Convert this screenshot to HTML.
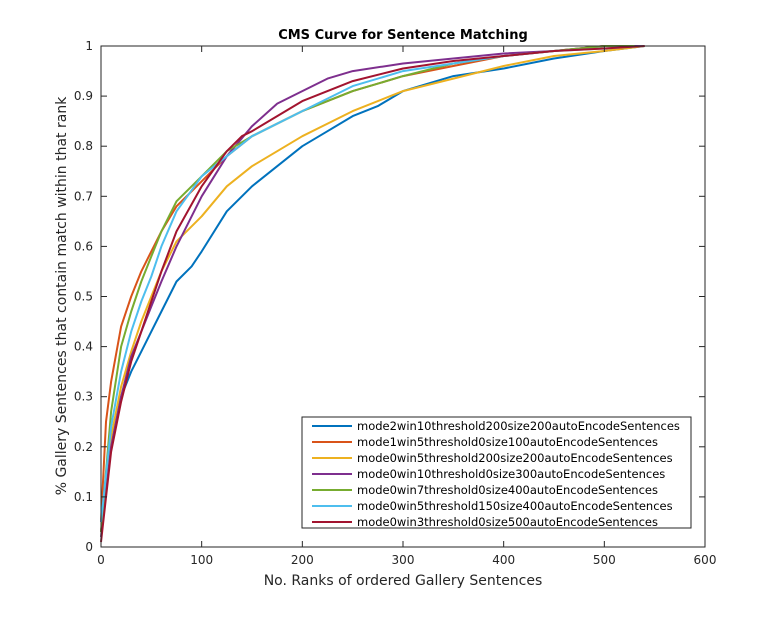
<!DOCTYPE html>
<html><head><meta charset="utf-8"><style>
body{margin:0;background:#fff;}
svg text{font-family:"DejaVu Sans","Liberation Sans",sans-serif;}
</style></head><body>
<svg id="chart" width="779" height="616" xmlns="http://www.w3.org/2000/svg">
<rect width="779" height="616" fill="#fff"/>
<g id="plot"></g>
</svg>
<script>
const xTicks=[0,100,200,300,400,500,600];
const yTicks=[0,0.1,0.2,0.3,0.4,0.5,0.6,0.7,0.8,0.9,1];
const yTickLabels=["0","0.1","0.2","0.3","0.4","0.5","0.6","0.7","0.8","0.9","1"];
const seriesNames=["mode2win10threshold200size200autoEncodeSentences","mode1win5threshold0size100autoEncodeSentences","mode0win5threshold200size200autoEncodeSentences","mode0win10threshold0size300autoEncodeSentences","mode0win7threshold0size400autoEncodeSentences","mode0win5threshold150size400autoEncodeSentences","mode0win3threshold0size500autoEncodeSentences"];
const colors=["#0072BD","#D95319","#EDB120","#7E2F8E","#77AC30","#4DBEEE","#A2142F"];
const xBlue=[0,10,20,30,40,50,60,75,90,100,125,150,175,200,225,250,275,300,350,400,450,500,540];
const yBlue=[0.03,0.2,0.3,0.35,0.39,0.43,0.47,0.53,0.56,0.59,0.67,0.72,0.76,0.8,0.83,0.86,0.88,0.91,0.94,0.955,0.975,0.99,1];
const xOrange=[0,5,10,20,30,40,50,60,75,100,125,150,200,250,300,350,400,450,500,540];
const yOrange=[0.05,0.25,0.33,0.44,0.5,0.55,0.59,0.63,0.68,0.73,0.78,0.82,0.87,0.91,0.94,0.96,0.98,0.99,1,1];
const xYellow=[0,10,20,30,40,50,60,75,100,125,150,175,200,250,300,350,400,450,500,540];
const yYellow=[0.03,0.22,0.32,0.39,0.45,0.5,0.55,0.61,0.66,0.72,0.76,0.79,0.82,0.87,0.91,0.935,0.96,0.98,0.99,1];
const xPurple=[0,10,20,30,40,50,60,75,100,125,150,175,200,225,250,300,350,400,450,500,540];
const yPurple=[0.02,0.2,0.3,0.38,0.43,0.48,0.53,0.6,0.7,0.78,0.84,0.885,0.91,0.935,0.95,0.965,0.975,0.985,0.99,1,1];
const xGreen=[0,5,10,20,30,40,50,60,75,100,125,150,200,250,300,350,400,450,500,530];
const yGreen=[0.03,0.15,0.27,0.4,0.47,0.53,0.58,0.63,0.69,0.74,0.79,0.82,0.87,0.91,0.94,0.965,0.98,0.99,1,1];
const xCyan=[0,10,20,30,40,50,60,75,100,125,150,200,250,300,350,400,450,500,540];
const yCyan=[0.05,0.24,0.35,0.43,0.49,0.54,0.6,0.67,0.74,0.78,0.82,0.87,0.92,0.95,0.965,0.98,0.99,0.995,1];
const xRed=[0,10,20,30,40,50,60,75,100,125,140,150,175,200,250,300,350,400,450,500,540];
const yRed=[0.01,0.19,0.29,0.37,0.43,0.49,0.55,0.63,0.72,0.79,0.82,0.83,0.86,0.89,0.93,0.955,0.97,0.98,0.99,0.995,1];
const allX=[xBlue,xOrange,xYellow,xPurple,xGreen,xCyan,xRed];
const allY=[yBlue,yOrange,yYellow,yPurple,yGreen,yCyan,yRed];

const L=101,R=705,T=46,B=547;
const sx=v=>L+(v-0)/(600-0)*(R-L);
const sy=v=>B-(v-0)/(1-0)*(B-T);
const NS="http://www.w3.org/2000/svg";
const g=document.getElementById('plot');
function mk(tag,attrs,parent){const e=document.createElementNS(NS,tag);for(const k in attrs)e.setAttribute(k,attrs[k]);(parent||g).appendChild(e);return e;}

// series
allX.forEach((xs,i)=>{
  const p=mk('polyline',{points:xs.map((x,j)=>sx(x).toFixed(1)+','+sy(allY[i][j]).toFixed(1)).join(' '),fill:'none',stroke:colors[i],'stroke-width':2,'stroke-linejoin':'round'});
  
  
});
// axes box
const box=mk('rect',{x:L,y:T,width:R-L,height:B-T,fill:'none',stroke:'#262626','stroke-width':1});


xTicks.forEach(t=>{
  const x=sx(t);
  mk('line',{x1:x,x2:x,y1:B,y2:B-6,stroke:'#262626'});
  mk('line',{x1:x,x2:x,y1:T,y2:T+6,stroke:'#262626'});
  const tx=mk('text',{x:x,y:B+17,'text-anchor':'middle','font-size':12,fill:'#262626'});
  tx.textContent=t;
  
  
});
yTicks.forEach((t,i)=>{
  const y=sy(t);
  mk('line',{x1:L,x2:L+6,y1:y,y2:y,stroke:'#262626'});
  mk('line',{x1:R,x2:R-6,y1:y,y2:y,stroke:'#262626'});
  const tx=mk('text',{x:L-8,y:y+4,'text-anchor':'end','font-size':12,fill:'#262626'});
  tx.textContent=yTickLabels[i];
  
  
});
const title=mk('text',{x:403,y:39,'text-anchor':'middle','font-size':13,'font-weight':'bold',fill:'#000'});
title.textContent='CMS Curve for Sentence Matching';


const xl=mk('text',{x:403,y:585,'text-anchor':'middle','font-size':14,fill:'#262626'});
xl.textContent='No. Ranks of ordered Gallery Sentences';


const yl=mk('text',{x:0,y:0,'text-anchor':'middle','font-size':14,fill:'#262626',transform:'translate(66,296) rotate(-90)'});
yl.textContent='% Gallery Sentences that contain match within that rank';


// legend
const lg=mk('g',{});


mk('rect',{x:302,y:417,width:389,height:111,fill:'#fff',stroke:'#262626'},lg);
seriesNames.forEach((n,i)=>{
  const y=426+i*16;
  const e=mk('g',{},lg);
  
  
  mk('line',{x1:312,x2:352,y1:y,y2:y,stroke:colors[i],'stroke-width':2},e);
  const t=mk('text',{x:357,y:y+4,'font-size':11.5,fill:'#000'},e);
  t.textContent=n;
});
</script>
</body></html>
